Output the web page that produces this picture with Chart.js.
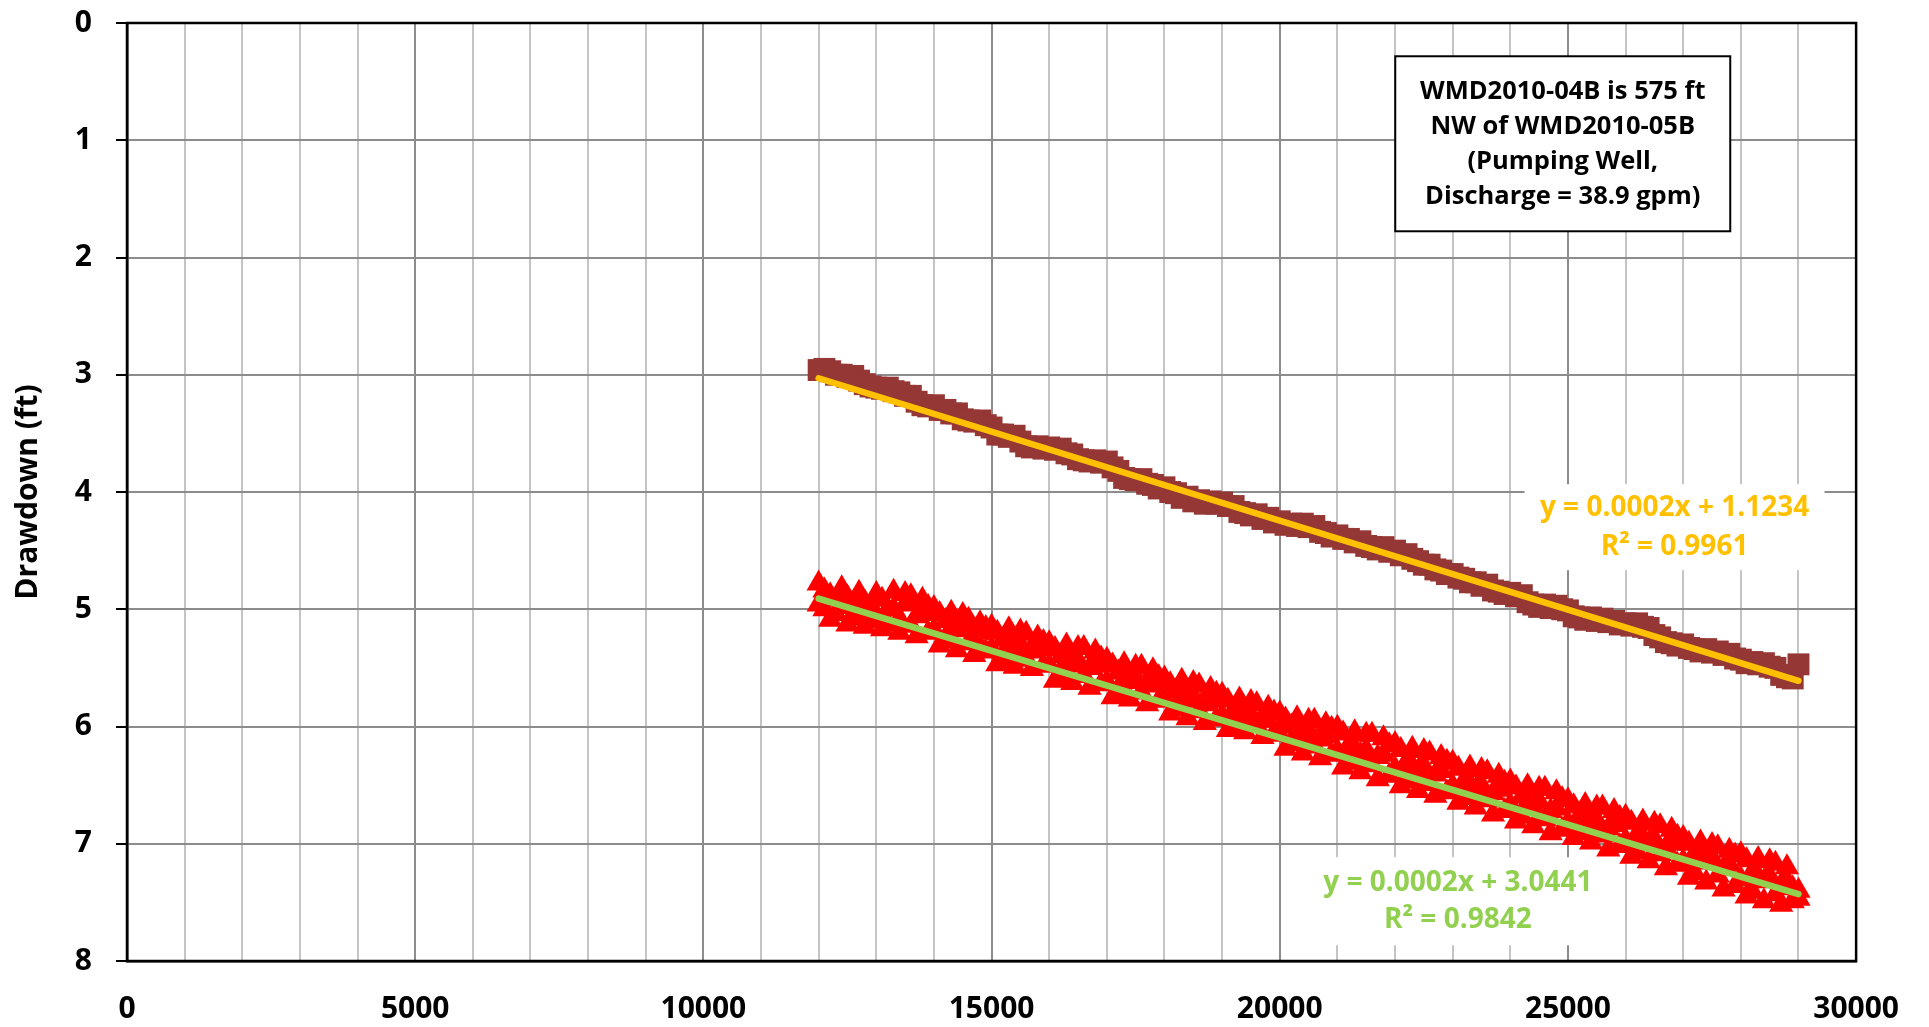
<!DOCTYPE html>
<html>
<head>
<meta charset="utf-8">
<title>Drawdown</title>
<script src="https://cdn.jsdelivr.net/npm/chart.js@4.4.0/dist/chart.umd.min.js"></script>
<style>
    html, body { margin: 0; padding: 0; background: #fff; }
    canvas { display: block; }
</style>
</head>
<body>
<canvas id="drawdownChart" width="1929" height="1027"></canvas>
<script>
// Elapsed time of each reading (x axis)
const timeValues = [
    12000, 12100, 12200, 12300, 12400, 12500, 12600, 12700, 12800, 12900,
    13000, 13100, 13200, 13300, 13400, 13500, 13600, 13700, 13800, 13900,
    14000, 14100, 14200, 14300, 14400, 14500, 14600, 14700, 14800, 14900,
    15000, 15100, 15200, 15300, 15400, 15500, 15600, 15700, 15800, 15900,
    16000, 16100, 16200, 16300, 16400, 16500, 16600, 16700, 16800, 16900,
    17000, 17100, 17200, 17300, 17400, 17500, 17600, 17700, 17800, 17900,
    18000, 18100, 18200, 18300, 18400, 18500, 18600, 18700, 18800, 18900,
    19000, 19100, 19200, 19300, 19400, 19500, 19600, 19700, 19800, 19900,
    20000, 20100, 20200, 20300, 20400, 20500, 20600, 20700, 20800, 20900,
    21000, 21100, 21200, 21300, 21400, 21500, 21600, 21700, 21800, 21900,
    22000, 22100, 22200, 22300, 22400, 22500, 22600, 22700, 22800, 22900,
    23000, 23100, 23200, 23300, 23400, 23500, 23600, 23700, 23800, 23900,
    24000, 24100, 24200, 24300, 24400, 24500, 24600, 24700, 24800, 24900,
    25000, 25100, 25200, 25300, 25400, 25500, 25600, 25700, 25800, 25900,
    26000, 26100, 26200, 26300, 26400, 26500, 26600, 26700, 26800, 26900,
    27000, 27100, 27200, 27300, 27400, 27500, 27600, 27700, 27800, 27900,
    28000, 28100, 28200, 28300, 28400, 28500, 28600, 28700, 28800, 28900,
    29000
];

// Drawdown (ft) at WMD2010-04B - brown squares
const drawdown04B = [
    2.96, 2.95, 2.97, 3.00, 3.00, 3.02, 3.01, 3.05, 3.08, 3.10,
    3.11, 3.12, 3.11, 3.14, 3.15, 3.18, 3.18, 3.23, 3.26, 3.27,
    3.26, 3.30, 3.30, 3.33, 3.33, 3.38, 3.39, 3.40, 3.39, 3.43,
    3.45, 3.51, 3.51, 3.53, 3.52, 3.57, 3.61, 3.62, 3.61, 3.63,
    3.62, 3.64, 3.63, 3.67, 3.68, 3.72, 3.73, 3.74, 3.73, 3.75,
    3.74, 3.79, 3.82, 3.88, 3.89, 3.90, 3.89, 3.93, 3.94, 3.97,
    3.96, 4.00, 4.01, 4.05, 4.04, 4.08, 4.07, 4.10, 4.08, 4.10,
    4.09, 4.12, 4.12, 4.17, 4.18, 4.20, 4.19, 4.23, 4.22, 4.26,
    4.25, 4.28, 4.27, 4.29, 4.27, 4.30, 4.29, 4.34, 4.35, 4.38,
    4.37, 4.40, 4.40, 4.43, 4.42, 4.46, 4.47, 4.49, 4.47, 4.51,
    4.50, 4.54, 4.53, 4.57, 4.59, 4.62, 4.62, 4.66, 4.67, 4.70,
    4.70, 4.73, 4.74, 4.77, 4.77, 4.80, 4.79, 4.84, 4.85, 4.87,
    4.86, 4.89, 4.88, 4.94, 4.96, 4.98, 4.96, 4.99, 4.97, 5.00,
    5.01, 5.06, 5.07, 5.09, 5.07, 5.10, 5.08, 5.11, 5.10, 5.13,
    5.12, 5.14, 5.12, 5.15, 5.16, 5.22, 5.24, 5.28, 5.29, 5.31,
    5.30, 5.33, 5.34, 5.36, 5.34, 5.37, 5.36, 5.39, 5.38, 5.42,
    5.43, 5.46, 5.45, 5.47, 5.46, 5.49, 5.50, 5.56, 5.58, 5.59,
    5.47
];

// Drawdown (ft) at the second well - red triangles, first reading at each time
const drawdownRedA = [
    4.78, 4.84, 5.09, 4.92, 4.82, 5.13, 4.95, 4.86, 5.15, 4.98,
    4.87, 5.17, 5.00, 4.85, 5.20, 4.96, 4.89, 5.23, 5.04, 4.98,
    4.99, 5.31, 5.10, 5.03, 5.35, 5.14, 5.09, 5.39, 5.20, 5.16,
    5.15, 5.47, 5.26, 5.17, 5.49, 5.30, 5.21, 5.51, 5.34, 5.28,
    5.29, 5.61, 5.40, 5.31, 5.63, 5.44, 5.33, 5.67, 5.48, 5.42,
    5.43, 5.75, 5.54, 5.47, 5.77, 5.58, 5.49, 5.81, 5.62, 5.58,
    5.59, 5.89, 5.70, 5.61, 5.93, 5.74, 5.65, 5.97, 5.78, 5.72,
    5.73, 6.03, 5.86, 5.77, 6.05, 5.90, 5.81, 6.09, 5.94, 5.88,
    5.89, 6.19, 6.00, 5.93, 6.23, 6.04, 5.95, 6.27, 6.08, 6.02,
    6.01, 6.35, 6.16, 6.05, 6.39, 6.20, 6.07, 6.45, 6.24, 6.16,
    6.15, 6.51, 6.30, 6.19, 6.55, 6.34, 6.23, 6.59, 6.38, 6.30,
    6.31, 6.65, 6.46, 6.35, 6.69, 6.50, 6.39, 6.75, 6.54, 6.48,
    6.47, 6.81, 6.60, 6.51, 6.85, 6.64, 6.53, 6.91, 6.70, 6.62,
    6.63, 6.95, 6.76, 6.67, 6.99, 6.80, 6.69, 7.05, 6.84, 6.78,
    6.77, 7.11, 6.92, 6.81, 7.15, 6.96, 6.85, 7.21, 7.00, 6.94,
    6.95, 7.29, 7.08, 6.99, 7.33, 7.12, 7.03, 7.39, 7.18, 7.10,
    7.09, 7.45, 7.24, 7.13, 7.49, 7.28, 7.17, 7.52, 7.32, 7.38,
    7.47
];

// Second reading at each time (the red cloud is dense)
const drawdownRedB = [
    4.96, 5.00, 4.88, 5.04, 4.98, 4.90, 5.08, 5.02, 4.94, 5.10,
    5.05, 4.92, 5.13, 5.00, 5.08, 4.87, 5.14, 5.06, 4.92, 5.20,
    5.18, 5.04, 5.27, 5.16, 5.18, 5.05, 5.29, 5.24, 5.12, 5.36,
    5.34, 5.20, 5.43, 5.30, 5.34, 5.19, 5.43, 5.36, 5.24, 5.48,
    5.48, 5.34, 5.57, 5.44, 5.48, 5.33, 5.57, 5.50, 5.36, 5.64,
    5.62, 5.48, 5.71, 5.59, 5.62, 5.49, 5.71, 5.65, 5.52, 5.78,
    5.77, 5.64, 5.85, 5.74, 5.78, 5.63, 5.87, 5.81, 5.68, 5.94,
    5.91, 5.78, 5.99, 5.88, 5.94, 5.79, 5.99, 5.95, 5.84, 6.06,
    6.07, 5.94, 6.15, 6.05, 6.08, 5.95, 6.17, 6.11, 5.98, 6.24,
    6.21, 6.06, 6.31, 6.19, 6.24, 6.07, 6.33, 6.26, 6.10, 6.42,
    6.36, 6.20, 6.47, 6.34, 6.38, 6.21, 6.49, 6.41, 6.26, 6.56,
    6.51, 6.36, 6.61, 6.49, 6.54, 6.37, 6.63, 6.57, 6.42, 6.72,
    6.67, 6.52, 6.77, 6.65, 6.68, 6.53, 6.79, 6.72, 6.56, 6.88,
    6.82, 6.68, 6.91, 6.80, 6.84, 6.69, 6.93, 6.87, 6.72, 7.02,
    6.97, 6.82, 7.07, 6.95, 7.00, 6.83, 7.09, 7.03, 6.88, 7.18,
    7.15, 7.00, 7.25, 7.13, 7.16, 7.01, 7.27, 7.21, 7.06, 7.36,
    7.30, 7.14, 7.41, 7.28, 7.32, 7.15, 7.43, 7.35, 7.20, 7.49,
    7.40
];

// Linear trendlines (end points as drawn)
const trendX = [12000, 29000];
const trend04B = [3.03, 5.61];
const trendRed = [4.91, 7.43];

// Text
const noteLines = ['WMD2010-04B is 575 ft', 'NW of WMD2010-05B', '(Pumping Well,', 'Discharge = 38.9 gpm)'];
const label04B = ['y = 0.0002x + 1.1234', 'R\u00B2 = 0.9961'];
const labelRed = ['y = 0.0002x + 3.0441', 'R\u00B2 = 0.9842'];

const FONT = "'Open Sans', 'Noto Sans', sans-serif";

function toPoints(xs, ys) {
    return xs.map((x, i) => ({ x: x, y: ys[i] }));
}

// Draw a white box with centred lines of text
function drawTextBox(ctx, cx, cy, w, h, lines, lineGap, color, border) {
    ctx.fillStyle = '#ffffff';
    ctx.fillRect(cx - w / 2, cy - h / 2, w, h);
    if (border) {
        ctx.strokeStyle = '#000000';
        ctx.lineWidth = 2;
        ctx.strokeRect(cx - w / 2, cy - h / 2, w, h);
    }
    ctx.fillStyle = color;
    ctx.textAlign = 'center';
    ctx.textBaseline = 'middle';
    const start = cy - (lines.length - 1) * lineGap / 2;
    lines.forEach((line, i) => ctx.fillText(line, cx, start + i * lineGap));
}

const annotationPlugin = {
    id: 'annotations',
    afterDatasetsDraw(chart) {
        const { ctx, chartArea, scales: { x, y } } = chart;
        ctx.save();

        // Trendline equations
        ctx.font = `bold 28px ${FONT}`;
        drawTextBox(ctx, x.getPixelForValue(26850), y.getPixelForValue(4.30), 300, 86, label04B, 39, '#FFC000', false);
        drawTextBox(ctx, x.getPixelForValue(23090), y.getPixelForValue(7.49), 300, 88, labelRed, 37, '#92D050', false);

        // Note box
        ctx.font = `bold 25.5px ${FONT}`;
        drawTextBox(ctx, x.getPixelForValue(24910), y.getPixelForValue(1.03), 335, 175, noteLines, 35, '#000000', true);

        // Plot frame
        ctx.strokeStyle = '#000000';
        ctx.lineWidth = 2.5;
        ctx.strokeRect(chartArea.left, chartArea.top, chartArea.right - chartArea.left, chartArea.bottom - chartArea.top);
        ctx.restore();
    }
};

const ctx = document.getElementById('drawdownChart').getContext('2d');

const drawdownChart = new Chart(ctx, {
    type: 'scatter',
    data: {
        datasets: [
            {
                label: 'Trend 04B',
                data: toPoints(trendX, trend04B),
                showLine: true,
                borderColor: '#FFC000',
                borderWidth: 6.5,
                borderCapStyle: 'round',
                pointRadius: 0,
                order: 0
            },
            {
                label: 'Trend red',
                data: toPoints(trendX, trendRed),
                showLine: true,
                borderColor: '#92D050',
                borderWidth: 6.5,
                borderCapStyle: 'round',
                pointRadius: 0,
                order: 0
            },
            {
                label: 'WMD2010-04B',
                data: toPoints(timeValues, drawdown04B),
                pointStyle: 'rect',
                pointRadius: 15.5,
                pointBorderWidth: 0,
                backgroundColor: '#953735',
                borderColor: '#953735',
                order: 1
            },
            {
                label: 'Red series',
                data: toPoints(timeValues, drawdownRedA).concat(toPoints(timeValues, drawdownRedB)),
                pointStyle: 'triangle',
                pointRadius: 14,
                pointBorderWidth: 0,
                backgroundColor: '#FF0000',
                borderColor: '#FF0000',
                order: 1
            }
        ]
    },
    options: {
        responsive: false,
        animation: false,
        devicePixelRatio: 1,
        layout: {
            padding: { left: 0, top: 23, right: 71, bottom: 0 }
        },
        plugins: {
            legend: { display: false },
            tooltip: { enabled: false }
        },
        scales: {
            x: {
                type: 'linear',
                min: 0,
                max: 30000,
                afterFit: scale => { scale.height = 66; },
                ticks: {
                    stepSize: 1000,
                    autoSkip: false,
                    maxRotation: 0,
                    padding: 30,
                    color: '#000000',
                    font: { family: FONT, size: 30, weight: 'bold' },
                    callback: value => (value % 5000 === 0 ? String(value) : '')
                },
                grid: {
                    drawTicks: false,
                    lineWidth: 2,
                    color: c => (c.tick && c.tick.value % 5000 === 0 ? '#8c8c8c' : '#c4c4c4')
                },
                border: { display: true, color: '#000000', width: 2.5 }
            },
            y: {
                type: 'linear',
                reverse: true,
                min: 0,
                max: 8,
                afterFit: scale => {
                    scale.width = 127;
                    scale.paddingTop = 0;
                    scale.paddingBottom = 0;
                },
                ticks: {
                    stepSize: 1,
                    padding: 24,
                    color: '#000000',
                    font: { family: FONT, size: 30, weight: 'bold' }
                },
                grid: {
                    lineWidth: 2,
                    color: '#8c8c8c',
                    tickColor: '#000000',
                    tickLength: 11,
                    tickWidth: 2
                },
                border: { display: true, color: '#000000', width: 2.5 },
                title: {
                    display: true,
                    text: 'Drawdown (ft)',
                    color: '#000000',
                    padding: { top: 10, bottom: 0 },
                    font: { family: FONT, size: 30, weight: 'bold' }
                }
            }
        }
    },
    plugins: [annotationPlugin]
});
</script>
</body>
</html>
